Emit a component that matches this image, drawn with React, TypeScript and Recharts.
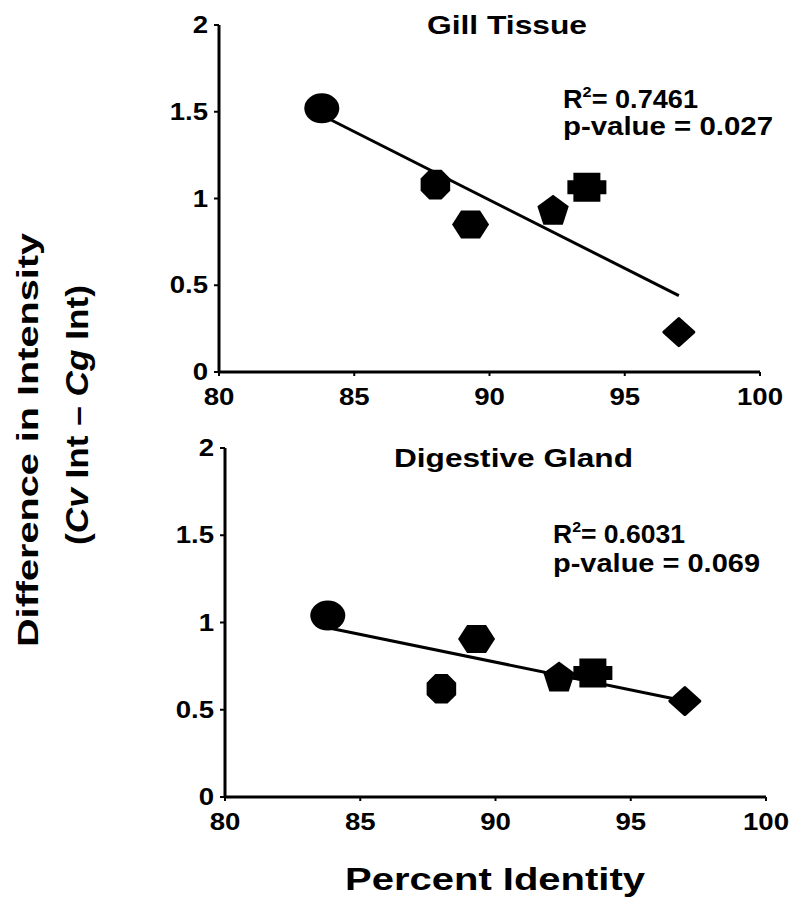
import { ScatterChart, Scatter, XAxis, YAxis, ReferenceLine } from 'recharts';

// percent identity of each sample (shared by both panels)
const PERCENT_IDENTITY = [83.8, 88.0, 89.3, 92.35, 93.6, 97.0];
const GILL_DIFF = [1.52, 1.08, 0.85, 0.935, 1.065, 0.23];
const GLAND_DIFF = [1.04, 0.62, 0.905, 0.69, 0.71, 0.55];
const MARKERS = ['circle', 'octagon', 'hexagon', 'pentagon', 'cross', 'diamond'];

// regression line end points
const GILL_FIT_X = [83.8, 97.0];
const GILL_FIT_Y = [1.48, 0.44];
const GLAND_FIT_X = [83.8, 97.0];
const GLAND_FIT_Y = [0.97, 0.55];

const X_TICKS = [80, 85, 90, 95, 100];
const Y_TICKS = [0, 0.5, 1, 1.5, 2];

const FONT = '"Liberation Sans", Arial, sans-serif';

const gillData = PERCENT_IDENTITY.map((x, i) => ({ x, y: GILL_DIFF[i], marker: MARKERS[i] }));
const glandData = PERCENT_IDENTITY.map((x, i) => ({ x, y: GLAND_DIFF[i], marker: MARKERS[i] }));

const pts = (arr: number[][], cx: number, cy: number) =>
  arr.map(([px, py]) => `${cx + px},${cy + py}`).join(' ');

function Marker(props: any) {
  const { cx, cy, payload } = props;
  if (cx == null || cy == null) return null;
  switch (payload.marker) {
    case 'circle':
      return <ellipse cx={cx} cy={cy} rx={17.5} ry={15} fill="#000" />;
    case 'octagon': {
      const r = 16;
      const p = Array.from({ length: 8 }, (_, k) => {
        const a = ((22.5 + 45 * k) * Math.PI) / 180;
        return [r * Math.cos(a), r * Math.sin(a)];
      });
      return <polygon points={pts(p, cx, cy)} fill="#000" />;
    }
    case 'hexagon':
      return (
        <polygon
          points={pts([[-18.5, 0], [-9.5, -14], [9.5, -14], [18.5, 0], [9.5, 14], [-9.5, 14]], cx, cy)}
          fill="#000"
        />
      );
    case 'pentagon': {
      const r = 16.5;
      const p = Array.from({ length: 5 }, (_, k) => {
        const a = ((-90 + 72 * k) * Math.PI) / 180;
        return [r * Math.cos(a), r * Math.sin(a) + 1.5];
      });
      return <polygon points={pts(p, cx, cy)} fill="#000" />;
    }
    case 'cross':
      return (
        <polygon
          points={pts(
            [
              [-19.5, -7], [-13.5, -7], [-13.5, -14.5], [13.5, -14.5], [13.5, -7], [19.5, -7],
              [19.5, 7], [13.5, 7], [13.5, 14.5], [-13.5, 14.5], [-13.5, 7], [-19.5, 7],
            ],
            cx,
            cy
          )}
          fill="#000"
        />
      );
    default:
      return (
        <polygon
          points={pts([[0, -13.5], [15, 0], [0, 13.5], [-15, 0]], cx, cy)}
          fill="#000"
          stroke="#000"
          strokeWidth={3}
          strokeLinejoin="round"
        />
      );
  }
}

const YTick = ({ x, y, payload }: any) => (
  <g transform={`translate(${x},${y}) scale(1.2,1)`}>
    <text x={0} y={0} dy={8} textAnchor="end" fontSize={23} fontWeight="bold" fill="#000" fontFamily={FONT}>
      {payload.value}
    </text>
  </g>
);

const XTick = ({ x, y, payload }: any) => (
  <g transform={`translate(${x},${y}) scale(1.2,1)`}>
    <text x={0} y={0} dy={16.5} textAnchor="middle" fontSize={23} fontWeight="bold" fill="#000" fontFamily={FONT}>
      {payload.value}
    </text>
  </g>
);

function Panel({ data, fitX, fitY, height, margin }: any) {
  return (
    <ScatterChart width={801} height={height} margin={margin}>
      <XAxis
        type="number"
        dataKey="x"
        domain={[80, 100]}
        ticks={X_TICKS}
        allowDataOverflow
        axisLine={{ stroke: '#000', strokeWidth: 3 }}
        tickLine={{ stroke: '#000', strokeWidth: 2 }}
        tickSize={4}
        tickMargin={12}
        tick={<XTick />}
        height={30}
      />
      <YAxis
        type="number"
        dataKey="y"
        domain={[0, 2]}
        ticks={Y_TICKS}
        allowDataOverflow
        axisLine={{ stroke: '#000', strokeWidth: 3 }}
        tickLine={{ stroke: '#000', strokeWidth: 2 }}
        tickSize={5}
        tickMargin={6}
        tick={<YTick />}
        width={60}
      />
      <ReferenceLine
        segment={[
          { x: fitX[0], y: fitY[0] },
          { x: fitX[1], y: fitY[1] },
        ]}
        stroke="#000"
        strokeWidth={3}
      />
      <Scatter data={data} shape={<Marker />} isAnimationActive={false} />
    </ScatterChart>
  );
}

const txt = { fontFamily: FONT, fontWeight: 'bold' as const, fill: '#000' };

export default function App() {
  return (
    <div style={{ position: 'absolute', left: 0, top: 0, width: 801, height: 905, background: '#fff' }}>
      <div style={{ position: 'absolute', left: 0, top: 0 }}>
        <Panel
          data={gillData}
          fitX={GILL_FIT_X}
          fitY={GILL_FIT_Y}
          height={420}
          margin={{ top: 25, right: 41, left: 159, bottom: 18 }}
        />
      </div>
      <div style={{ position: 'absolute', left: 0, top: 420 }}>
        <Panel
          data={glandData}
          fitX={GLAND_FIT_X}
          fitY={GLAND_FIT_Y}
          height={485}
          margin={{ top: 28, right: 35, left: 165, bottom: 78 }}
        />
      </div>
      <svg
        width={801}
        height={905}
        style={{ position: 'absolute', left: 0, top: 0, pointerEvents: 'none' }}
      >
        <text x={427} y={34} fontSize={26} textLength={160} lengthAdjust="spacingAndGlyphs" {...txt}>
          Gill Tissue
        </text>
        <text x={394} y={467} fontSize={26} textLength={239} lengthAdjust="spacingAndGlyphs" {...txt}>
          Digestive Gland
        </text>

        <text x={563} y={108} fontSize={25} textLength={135} lengthAdjust="spacingAndGlyphs" {...txt}>
          R<tspan fontSize={15} dy={-11}>2</tspan>
          <tspan dy={11}>= 0.7461</tspan>
        </text>
        <text x={563} y={135} fontSize={25} textLength={210} lengthAdjust="spacingAndGlyphs" {...txt}>
          p-value = 0.027
        </text>
        <text x={553} y={543} fontSize={25} textLength={132} lengthAdjust="spacingAndGlyphs" {...txt}>
          R<tspan fontSize={15} dy={-11}>2</tspan>
          <tspan dy={11}>= 0.6031</tspan>
        </text>
        <text x={553} y={572} fontSize={25} textLength={207} lengthAdjust="spacingAndGlyphs" {...txt}>
          p-value = 0.069
        </text>

        <text
          transform="translate(38,440) rotate(-90)"
          textAnchor="middle"
          fontSize={30}
          textLength={414}
          lengthAdjust="spacingAndGlyphs"
          {...txt}
        >
          Difference in Intensity
        </text>
        <text
          transform="translate(88,415) rotate(-90)"
          textAnchor="middle"
          fontSize={31}
          textLength={260}
          lengthAdjust="spacingAndGlyphs"
          {...txt}
        >
          (<tspan fontStyle="italic">Cv</tspan> Int – <tspan fontStyle="italic">Cg</tspan> Int)
        </text>
        <text x={345} y={890} fontSize={32} textLength={300} lengthAdjust="spacingAndGlyphs" {...txt}>
          Percent Identity
        </text>
      </svg>
    </div>
  );
}
